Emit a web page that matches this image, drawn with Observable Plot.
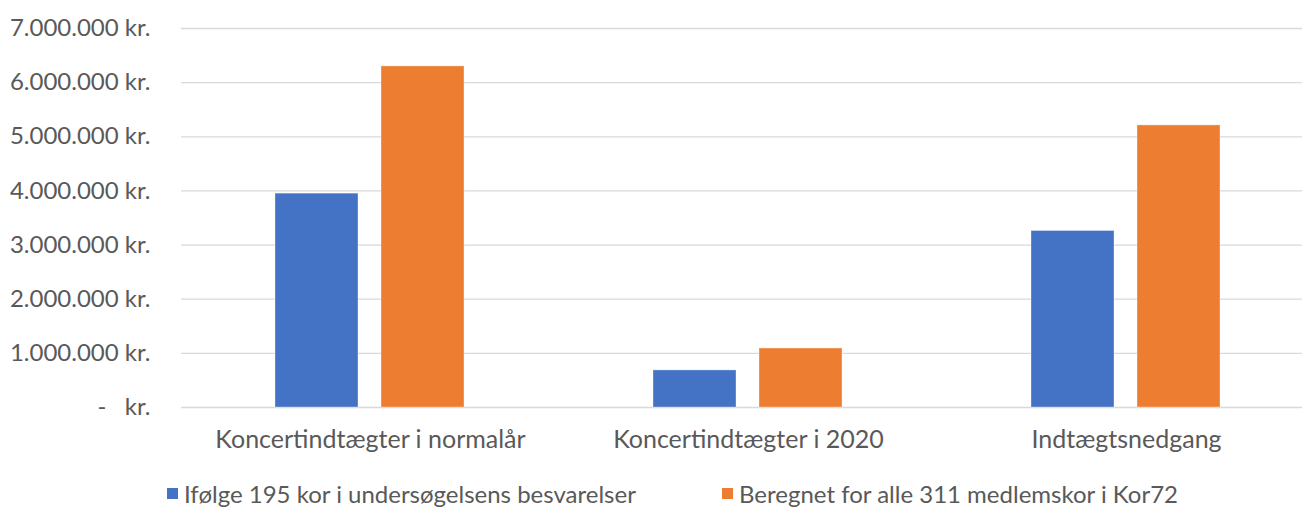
<!DOCTYPE html>
<html>
<head>
<meta charset="utf-8">
<script src="https://cdn.jsdelivr.net/npm/d3@7"></script>
<script src="https://cdn.jsdelivr.net/npm/@observablehq/plot@0.6"></script>
<style>
  body { margin: 0; background: #fff; font-family: Lato, "Open Sans", sans-serif; }
  #wrap { position: relative; width: 1302px; height: 510px; }
  .legend { position: absolute; top: 479px; left: 0; width: 1302px; height: 29px; font-size: 24px; line-height: 29px; color: #595959; }
  .item { position: absolute; top: 0; height: 29px; display: flex; align-items: center; white-space: nowrap; }
  .sw { width: 11px; height: 11px; margin-right: 6px; display: inline-block; }
</style>
</head>
<body>
<div id="wrap"></div>
<script>
const categories = ["Koncertindtægter i normalår", "Koncertindtægter i 2020", "Indtægtsnedgang"];
const seriesNames = ["Ifølge 195 kor i undersøgelsens besvarelser", "Beregnet for alle 311 medlemskor i Kor72"];
const surveyValues = [3950000, 685000, 3260000];
const allMembersValues = [6300000, 1090000, 5210000];
const yTicks = [0, 1000000, 2000000, 3000000, 4000000, 5000000, 6000000, 7000000];
const seriesColors = ["#4472C4", "#ED7D31"];

const data = [];
categories.forEach((c, i) => {
  data.push({category: c, series: seriesNames[0], value: surveyValues[i]});
  data.push({category: c, series: seriesNames[1], value: allMembersValues[i]});
});

const fmtNum = d3.formatLocale({decimal: ",", thousands: ".", grouping: [3], currency: ["", " kr."]}).format(",.0f");
const fmt = d => d === 0 ? "-\u00a0\u00a0\u00a0kr." : fmtNum(d) + " kr.";

const chart = Plot.plot({
  width: 1302,
  height: 470,
  marginLeft: 181,
  marginRight: 0,
  marginTop: 28,
  marginBottom: 63,
  style: {fontFamily: "Lato, 'Open Sans', sans-serif", fontSize: "24px", color: "#595959", background: "#fff", overflow: "hidden"},
  fx: {domain: categories, range: [181, 1315], padding: 0, label: null},
  x: {domain: seriesNames, paddingInner: 0.215, paddingOuter: 0.875, axis: null},
  y: {domain: [0, 7000000], label: null},
  color: {domain: seriesNames, range: seriesColors},
  marks: [
    Plot.gridY(yTicks, {stroke: "#d9d9d9", strokeOpacity: 1, strokeWidth: 1.3}),
    Plot.barY(data, {fx: "category", x: "series", y: "value", fill: "series", stroke: "#ffffff", strokeOpacity: 0.35, strokeWidth: 1}),
    Plot.axisY(yTicks, {tickFormat: fmt, tickSize: 0, tickPadding: 31, fill: "#595959", fontSize: 24, label: null}),
    Plot.axisFx({anchor: "bottom", tickSize: 0, tickPadding: 23, fill: "#595959", fontSize: 25, label: null})
  ]
});
document.getElementById("wrap").appendChild(chart);

const legend = document.createElement("div");
legend.className = "legend";
const lefts = [167, 722];
seriesNames.forEach((s, i) => {
  const it = document.createElement("div");
  it.className = "item";
  it.style.left = lefts[i] + "px";
  const sw = document.createElement("span");
  sw.className = "sw";
  sw.style.background = seriesColors[i];
  const t = document.createElement("span");
  t.textContent = s;
  it.appendChild(sw);
  it.appendChild(t);
  legend.appendChild(it);
});
document.getElementById("wrap").appendChild(legend);
</script>
</body>
</html>
